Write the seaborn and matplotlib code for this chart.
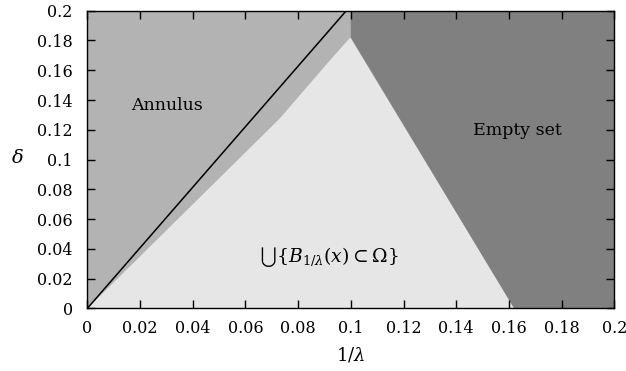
import matplotlib
matplotlib.use("Agg")
import matplotlib.pyplot as plt
import seaborn as sns
import pandas as pd
from matplotlib.ticker import FormatStrFormatter

# ---- data ----
line_x = [0.0, 0.0983]          # black boundary line
line_y = [0.0, 0.2]

light_x = [0.0, 0.0731, 0.0922, 0.0998, 0.162]   # union-of-balls region
light_y = [0.0, 0.1277, 0.1669, 0.182, 0.0]

empty_x = [0.1, 0.1, 0.162, 0.2, 0.2]            # empty-set region
empty_y = [0.2, 0.182, 0.0, 0.0, 0.2]

xticks = [0, 0.02, 0.04, 0.06, 0.08, 0.1, 0.12, 0.14, 0.16, 0.18, 0.2]
yticks = [0, 0.02, 0.04, 0.06, 0.08, 0.1, 0.12, 0.14, 0.16, 0.18, 0.2]

region_labels = ["Annulus", "Empty set", r"$\bigcup\{B_{1/\lambda}(x) \subset \Omega\}$"]
label_x = [0.0302, 0.1634, 0.0915]
label_y = [0.1366, 0.1198, 0.0345]
label_sizes = [12.5, 12.5, 13.5]

# ---- style ----
sns.set_theme(style="ticks")
plt.rcParams.update({
    "font.family": ["DejaVu Serif"],
    "mathtext.fontset": "dejavuserif",
    "axes.axisbelow": False,
    "xtick.direction": "in",
    "ytick.direction": "in",
    "xtick.top": True,
    "ytick.right": True,
    "xtick.major.size": 6,
    "ytick.major.size": 6,
    "xtick.major.width": 1.0,
    "ytick.major.width": 1.0,
    "axes.linewidth": 1.0,
    "axes.edgecolor": "black",
    "xtick.color": "black",
    "ytick.color": "black",
    "text.color": "black",
    "axes.labelcolor": "black",
})

fig = plt.figure(figsize=(6.26, 3.71), dpi=100)
ax = fig.add_axes([0.1395, 0.1687, 0.8418, 0.8025])
ax.set_facecolor("#b3b3b3")
ax.set_axisbelow(False)

ax.fill(light_x, light_y, color="#e6e6e6", lw=0, zorder=1)
ax.fill(empty_x, empty_y, color="#808080", lw=0, zorder=1)

df = pd.DataFrame({"x": line_x, "y": line_y})
sns.lineplot(data=df, x="x", y="y", color="black", lw=1.1, ax=ax, sort=False, zorder=3)

ax.set_xlim(0, 0.2)
ax.set_ylim(0, 0.2)
ax.set_xticks(xticks)
ax.set_yticks(yticks)
ax.xaxis.set_major_formatter(FormatStrFormatter("%g"))
ax.yaxis.set_major_formatter(FormatStrFormatter("%g"))
ax.tick_params(which="both", direction="in", top=True, bottom=True, left=True, right=True,
               length=6, width=1.0, color="black", zorder=6)
ax.tick_params(axis="x", labelsize=11.5, pad=8)
ax.tick_params(axis="y", labelsize=11.5, pad=10.5)

for t, x, y, s in zip(region_labels, label_x, label_y, label_sizes):
    ax.text(x, y, t, ha="center", va="center", fontsize=s, zorder=4)

ax.set_xlabel(r"$1/\lambda$", fontsize=13)
ax.set_ylabel(r"$\delta$", fontsize=14, rotation=0)
ax.xaxis.set_label_coords(0.5, -0.157)
ax.xaxis.label.set_va("center")
ax.yaxis.set_label_coords(-0.133, 0.505)
ax.yaxis.label.set_va("center")
ax.yaxis.label.set_ha("center")

for s in ax.spines.values():
    s.set_zorder(5)

fig.savefig("out.png", dpi=100)
